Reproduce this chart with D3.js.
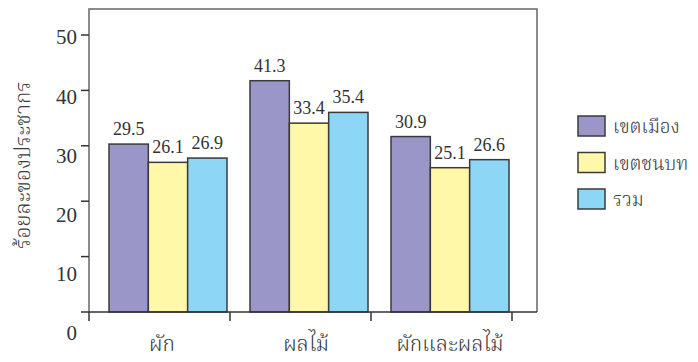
<!DOCTYPE html>
<html>
<head>
<meta charset="utf-8">
<script src="https://cdn.jsdelivr.net/npm/d3@7"></script>
<style>
  html, body { margin: 0; padding: 0; background: #fff; }
  svg { display: block; }
  text { font-family: "Liberation Serif", "Times New Roman", serif; fill: #333; }
  .thai { font-family: "Noto Serif Thai", "Kinnari", "Norasi", "Laksaman", "TH Sarabun New", "Liberation Serif", serif; font-weight: 300; fill: #3a3a3a; }
</style>
</head>
<body>
<svg id="chart" width="698" height="362"></svg>
<script>
// Share of population by food group, urban vs rural
const categories = ["ผัก", "ผลไม้", "ผักและผลไม้"];
const seriesNames = ["เขตเมือง", "เขตชนบท", "รวม"];
const urban = [29.5, 41.3, 30.9];
const rural = [26.1, 33.4, 25.1];
const total = [26.9, 35.4, 26.6];
const yTicks = [0, 10, 20, 30, 40, 50];
const yTitle = "ร้อยละของประชากร";

const colors = ["#9b96c8", "#fff8a8", "#8ed6f6"];
const seriesValues = [urban, rural, total];

const svg = d3.select("#chart");

const frame = { left: 89, right: 537, top: 9, bottom: 312 };

// axis scale for the tick marks
const yAxisScale = d3.scaleLinear().domain([0, 50]).range([312, 35]);
// tick labels sit on a slightly wider spacing
const yLabelScale = d3.scaleLinear().domain([0, 50]).range([333, 37]);
// bar heights
const yBar = d3.scaleLinear().domain([0, 50]).range([302.5, 34]);

const x = d3.scaleBand().domain(categories).range([89, 512]).paddingInner(0).paddingOuter(0);
const xSub = d3.scaleBand().domain(seriesNames).range([20, 138]);
// category label centres
const xLabel = d3.scalePoint().domain(categories).range([162, 450]);

// frame
svg.append("path")
  .attr("d", `M${frame.left},${frame.bottom}V${frame.top}H${frame.right}V${frame.bottom}`)
  .attr("fill", "none").attr("stroke", "#666").attr("stroke-width", 1.5);

// bars
const groups = svg.append("g").selectAll("g")
  .data(categories)
  .join("g")
  .attr("transform", d => `translate(${x(d)},0)`);

groups.selectAll("rect")
  .data((d, i) => seriesNames.map((s, j) => ({ s, j, v: seriesValues[j][i] })))
  .join("rect")
  .attr("x", d => xSub(d.s))
  .attr("y", d => yBar(d.v))
  .attr("width", xSub.bandwidth())
  .attr("height", d => frame.bottom - yBar(d.v))
  .attr("fill", d => colors[d.j])
  .attr("stroke", "#3a3a3a")
  .attr("stroke-width", 1.5);

groups.selectAll("text.val")
  .data((d, i) => seriesNames.map((s, j) => ({ s, j, v: seriesValues[j][i] })))
  .join("text")
  .attr("class", "val")
  .attr("x", d => xSub(d.s) + xSub.bandwidth() / 2)
  .attr("y", d => yBar(d.v) - 9)
  .attr("text-anchor", "middle")
  .attr("font-size", 18)
  .text(d => d.v.toFixed(1));

// bottom axis line
svg.append("line")
  .attr("x1", 81).attr("x2", frame.right)
  .attr("y1", frame.bottom).attr("y2", frame.bottom)
  .attr("stroke", "#333").attr("stroke-width", 1.5);

// y ticks
svg.append("g").selectAll("line")
  .data(yTicks.filter(d => d > 0))
  .join("line")
  .attr("x1", 81).attr("x2", frame.left)
  .attr("y1", d => yAxisScale(d)).attr("y2", d => yAxisScale(d))
  .attr("stroke", "#333").attr("stroke-width", 1.5);

svg.append("g").selectAll("text")
  .data(yTicks)
  .join("text")
  .attr("x", 77)
  .attr("y", d => yLabelScale(d))
  .attr("dy", "0.35em")
  .attr("text-anchor", "end")
  .attr("font-size", 21)
  .text(d => d);

// x ticks between groups
const xTickPos = categories.map(c => x(c) + x.step()).concat([x(categories[0])]);
svg.append("g").selectAll("line")
  .data(xTickPos)
  .join("line")
  .attr("x1", d => d).attr("x2", d => d)
  .attr("y1", frame.bottom).attr("y2", 321)
  .attr("stroke", "#333").attr("stroke-width", 1.5);

// category labels
svg.append("g").selectAll("text")
  .data(categories)
  .join("text")
  .attr("class", "thai")
  .attr("x", d => xLabel(d))
  .attr("y", 351)
  .attr("text-anchor", "middle")
  .attr("font-size", 21)
  .text(d => d);

// y axis title
svg.append("text")
  .attr("class", "thai")
  .attr("transform", "translate(30,165) rotate(-90)")
  .attr("text-anchor", "middle")
  .attr("font-size", 21)
  .text(yTitle);

// legend
const legend = svg.append("g").selectAll("g")
  .data(seriesNames)
  .join("g")
  .attr("transform", (d, i) => `translate(578,${116 + i * 36.5})`);

legend.append("rect")
  .attr("width", 27).attr("height", 20)
  .attr("fill", (d, i) => colors[i])
  .attr("stroke", "#3a3a3a").attr("stroke-width", 1.5);

legend.append("text")
  .attr("class", "thai")
  .attr("x", 35).attr("y", 17)
  .attr("font-size", 19)
  .text(d => d);
</script>
</body>
</html>
